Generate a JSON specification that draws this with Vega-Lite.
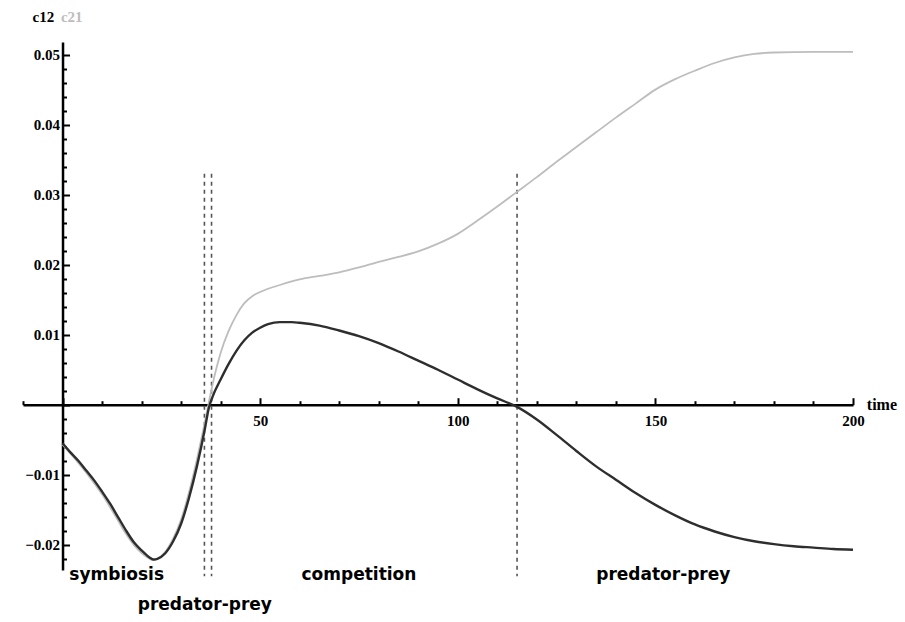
{
  "$schema": "https://vega.github.io/schema/vega-lite/v6.json",
  "width": 830,
  "height": 528,
  "autosize": {"type": "none"},
  "padding": {"left": 23, "top": 42, "right": 52, "bottom": 52},
  "background": "white",
  "config": {"view": {"stroke": null}},
  "datasets": {
    "c12": [
      {"time": 0, "c": -0.0055}, {"time": 2, "c": -0.0068}, {"time": 4, "c": -0.008},
      {"time": 6, "c": -0.0094}, {"time": 8, "c": -0.0108}, {"time": 10, "c": -0.0124},
      {"time": 12, "c": -0.0141}, {"time": 14, "c": -0.016}, {"time": 16, "c": -0.0179},
      {"time": 18, "c": -0.0196}, {"time": 20, "c": -0.0208}, {"time": 22, "c": -0.0218},
      {"time": 23, "c": -0.0221}, {"time": 24, "c": -0.022}, {"time": 26, "c": -0.0212},
      {"time": 28, "c": -0.0195}, {"time": 30, "c": -0.017}, {"time": 32, "c": -0.0133},
      {"time": 34, "c": -0.0088}, {"time": 36, "c": -0.0035}, {"time": 37, "c": -0.0005},
      {"time": 38, "c": 0.0012}, {"time": 40, "c": 0.0036}, {"time": 42, "c": 0.0058},
      {"time": 44, "c": 0.0077}, {"time": 46, "c": 0.0092}, {"time": 48, "c": 0.0103},
      {"time": 50, "c": 0.011}, {"time": 52, "c": 0.0115}, {"time": 55, "c": 0.0118},
      {"time": 58, "c": 0.0118}, {"time": 60, "c": 0.0117}, {"time": 65, "c": 0.0113},
      {"time": 70, "c": 0.0106}, {"time": 75, "c": 0.0098}, {"time": 80, "c": 0.0088},
      {"time": 85, "c": 0.0076}, {"time": 90, "c": 0.0063}, {"time": 95, "c": 0.005},
      {"time": 100, "c": 0.0036}, {"time": 105, "c": 0.0022}, {"time": 110, "c": 0.0009},
      {"time": 115, "c": -0.0003}, {"time": 120, "c": -0.0021}, {"time": 125, "c": -0.0043},
      {"time": 130, "c": -0.0066}, {"time": 135, "c": -0.0088}, {"time": 140, "c": -0.0107},
      {"time": 145, "c": -0.0126}, {"time": 150, "c": -0.0143}, {"time": 155, "c": -0.0158},
      {"time": 160, "c": -0.0171}, {"time": 165, "c": -0.0181}, {"time": 170, "c": -0.0189},
      {"time": 175, "c": -0.0195}, {"time": 180, "c": -0.0199}, {"time": 185, "c": -0.0202},
      {"time": 190, "c": -0.0204}, {"time": 195, "c": -0.0206}, {"time": 200, "c": -0.0207}
    ],
    "c21": [
      {"time": 0, "c": -0.0057}, {"time": 2, "c": -0.007}, {"time": 4, "c": -0.0083},
      {"time": 6, "c": -0.0097}, {"time": 8, "c": -0.0112}, {"time": 10, "c": -0.0128},
      {"time": 12, "c": -0.0146}, {"time": 14, "c": -0.0165}, {"time": 16, "c": -0.0184},
      {"time": 18, "c": -0.02}, {"time": 20, "c": -0.0212}, {"time": 22, "c": -0.022},
      {"time": 23, "c": -0.0222}, {"time": 24, "c": -0.022}, {"time": 26, "c": -0.021},
      {"time": 28, "c": -0.0191}, {"time": 30, "c": -0.0164}, {"time": 32, "c": -0.0125},
      {"time": 34, "c": -0.0078}, {"time": 36, "c": -0.0025}, {"time": 37, "c": 0.0003},
      {"time": 38, "c": 0.003}, {"time": 40, "c": 0.0074}, {"time": 42, "c": 0.0105},
      {"time": 44, "c": 0.0128}, {"time": 46, "c": 0.0145}, {"time": 48, "c": 0.0155},
      {"time": 50, "c": 0.0161}, {"time": 55, "c": 0.0171}, {"time": 60, "c": 0.0179},
      {"time": 65, "c": 0.0184}, {"time": 70, "c": 0.0189}, {"time": 75, "c": 0.0196},
      {"time": 80, "c": 0.0204}, {"time": 85, "c": 0.0211}, {"time": 90, "c": 0.0219},
      {"time": 95, "c": 0.023}, {"time": 100, "c": 0.0244}, {"time": 105, "c": 0.0263},
      {"time": 110, "c": 0.0283}, {"time": 115, "c": 0.0304}, {"time": 120, "c": 0.0325},
      {"time": 125, "c": 0.0347}, {"time": 130, "c": 0.0368}, {"time": 135, "c": 0.0389},
      {"time": 140, "c": 0.041}, {"time": 145, "c": 0.043}, {"time": 150, "c": 0.045},
      {"time": 155, "c": 0.0465}, {"time": 160, "c": 0.0477}, {"time": 165, "c": 0.0488},
      {"time": 170, "c": 0.0496}, {"time": 175, "c": 0.0501}, {"time": 180, "c": 0.0503},
      {"time": 190, "c": 0.0504}, {"time": 200, "c": 0.0504}
    ],
    "switches": [{"time": 35.9}, {"time": 37.7}, {"time": 115}],
    "regions": [
      {"label": "symbiosis", "time": 13.7, "c": -0.0243},
      {"label": "predator-prey", "time": 36, "c": -0.0286},
      {"label": "competition", "time": 75, "c": -0.0243},
      {"label": "predator-prey", "time": 152, "c": -0.0243}
    ]
  },
  "layer": [
    {
      "data": {"name": "c12"},
      "mark": {"type": "line", "opacity": 0},
      "encoding": {
        "x": {
          "field": "time", "type": "quantitative",
          "scale": {"domain": [-10, 200], "nice": false, "zero": false},
          "axis": {
            "orient": "bottom", "offset": -165.3, "title": null, "grid": false,
            "values": [-10, 0, 10, 20, 30, 40, 50, 60, 70, 80, 90, 100, 110, 120, 130, 140, 150, 160, 170, 180, 190, 200],
            "tickCount": 200,
            "labelExpr": "datum.value % 50 === 0 && datum.value !== 0 ? datum.label : ''",
            "labelOverlap": false,
            "domainColor": "black", "domainWidth": 2.5,
            "tickColor": "black", "tickWidth": 2,
            "tickSize": {"condition": {"test": "datum.value % 50 === 0", "value": -7}, "value": -4},
            "labelFont": "Liberation Serif", "labelFontWeight": "bold", "labelFontSize": 15,
            "labelColor": "black", "labelPadding": 16, "labelFlush": false
          }
        },
        "y": {
          "field": "c", "type": "quantitative",
          "scale": {"domain": [-0.0236, 0.0518], "nice": false, "zero": false},
          "axis": {
            "orient": "left", "offset": -39.52, "title": null, "grid": false,
            "values": [-0.022, -0.02, -0.018, -0.016, -0.014, -0.012, -0.01, -0.008, -0.006, -0.004, -0.002, 0, 0.002, 0.004, 0.006, 0.008, 0.01, 0.012, 0.014, 0.016, 0.018, 0.02, 0.022, 0.024, 0.026, 0.028, 0.03, 0.032, 0.034, 0.036, 0.038, 0.04, 0.042, 0.044, 0.046, 0.048, 0.05],
            "tickCount": 200,
            "format": ".2f",
            "labelExpr": "abs(datum.value * 100 - round(datum.value * 100)) < 1e-6 && abs(datum.value) > 1e-9 ? datum.label : ''",
            "labelOverlap": false,
            "domainColor": "black", "domainWidth": 2.5,
            "tickColor": "black", "tickWidth": 2,
            "tickSize": {"condition": {"test": "abs(datum.value * 100 - round(datum.value * 100)) < 1e-6", "value": -7}, "value": -4},
            "labelFont": "Liberation Serif", "labelFontWeight": "bold", "labelFontSize": 15,
            "labelColor": "black", "labelPadding": 10, "labelFlush": false
          }
        }
      }
    },
    {
      "data": {"name": "switches"},
      "mark": {"type": "rule", "color": "#555555", "strokeWidth": 1.6, "strokeDash": [4, 4], "clip": false},
      "encoding": {
        "x": {"field": "time", "type": "quantitative"},
        "y": {"datum": 0.033},
        "y2": {"datum": -0.0245}
      }
    },
    {
      "data": {"name": "c21"},
      "mark": {"type": "line", "color": "#bdbdbd", "strokeWidth": 1.8, "interpolate": "monotone"},
      "encoding": {
        "x": {"field": "time", "type": "quantitative"},
        "y": {"field": "c", "type": "quantitative"}
      }
    },
    {
      "data": {"name": "c12"},
      "mark": {"type": "line", "color": "#2e2e2e", "strokeWidth": 2.4, "interpolate": "monotone"},
      "encoding": {
        "x": {"field": "time", "type": "quantitative"},
        "y": {"field": "c", "type": "quantitative"}
      }
    },
    {
      "data": {"name": "regions"},
      "mark": {"type": "text", "font": "DejaVu Sans", "fontWeight": "bold", "fontSize": 17, "color": "black", "align": "center", "baseline": "middle", "clip": false},
      "encoding": {
        "x": {"field": "time", "type": "quantitative"},
        "y": {"field": "c", "type": "quantitative"},
        "text": {"field": "label"}
      }
    },
    {
      "data": {"values": [{"label": "time"}]},
      "mark": {"type": "text", "font": "Liberation Serif", "fontWeight": "bold", "fontSize": 16, "color": "black", "align": "left", "baseline": "middle", "clip": false},
      "encoding": {
        "x": {"datum": 203.5},
        "y": {"datum": 0},
        "text": {"field": "label"}
      }
    },
    {
      "data": {"values": [{"label": "c12"}]},
      "mark": {"type": "text", "font": "Liberation Serif", "fontWeight": "bold", "fontSize": 15, "color": "black", "align": "left", "baseline": "middle", "clip": false},
      "encoding": {
        "x": {"datum": -7.6},
        "y": {"datum": 0.0554},
        "text": {"field": "label"}
      }
    },
    {
      "data": {"values": [{"label": "c21"}]},
      "mark": {"type": "text", "font": "Liberation Serif", "fontWeight": "bold", "fontSize": 15, "color": "#bdbdbd", "align": "left", "baseline": "middle", "clip": false},
      "encoding": {
        "x": {"datum": -0.4},
        "y": {"datum": 0.0554},
        "text": {"field": "label"}
      }
    }
  ]
}
